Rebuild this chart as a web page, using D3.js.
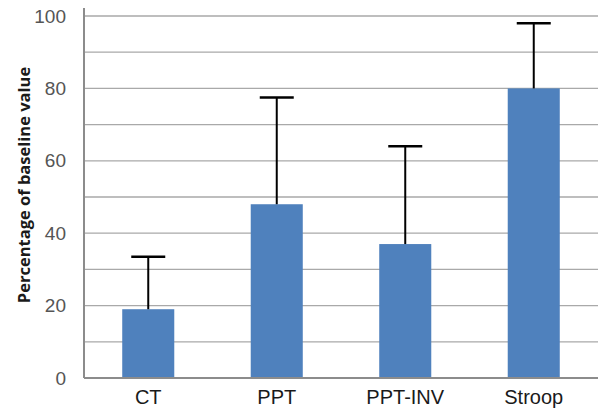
<!DOCTYPE html>
<html>
<head>
<meta charset="utf-8">
<script src="https://cdn.jsdelivr.net/npm/d3@7"></script>
<style>
  body { margin: 0; background: #fff; }
</style>
</head>
<body>
<script>
var categories = ["CT", "PPT", "PPT-INV", "Stroop"];
var means = [19, 48, 37, 80];
var errorTops = [33.5, 77.5, 64, 98];
var yTicks = [0, 20, 40, 60, 80, 100];
var gridTicks = [10, 20, 30, 40, 50, 60, 70, 80, 90, 100];

var width = 605,
    height = 411;

var margin = { top: 16, right: 7, bottom: 33, left: 84 };

var svg = d3.select("body")
    .append("svg")
    .attr("width", width)
    .attr("height", height);

var x = d3.scaleBand()
    .domain(categories)
    .range([margin.left, width - margin.right])
    .paddingInner(0.595)
    .paddingOuter(0.2975);

var y = d3.scaleLinear()
    .domain([0, 100])
    .range([height - margin.bottom, margin.top]);

// gridlines
svg.selectAll("line.grid")
    .data(gridTicks)
    .enter()
    .append("line")
    .attr("class", "grid")
    .attr("x1", margin.left)
    .attr("x2", width - margin.right)
    .attr("y1", function (d) { return y(d); })
    .attr("y2", function (d) { return y(d); })
    .style("stroke", "#a9a9a9")
    .style("stroke-width", 1.3);

// bars
svg.selectAll("rect.bar")
    .data(categories)
    .enter()
    .append("rect")
    .attr("class", "bar")
    .attr("x", function (d) { return x(d); })
    .attr("width", x.bandwidth())
    .attr("y", function (d, i) { return y(means[i]); })
    .attr("height", function (d, i) { return y(0) - y(means[i]); })
    .style("fill", "#4f81bd");

// error bars (upper only)
var capHalf = 17;
var err = svg.selectAll("g.err")
    .data(categories)
    .enter()
    .append("g")
    .attr("class", "err");

err.append("line")
    .attr("x1", function (d) { return x(d) + x.bandwidth() / 2; })
    .attr("x2", function (d) { return x(d) + x.bandwidth() / 2; })
    .attr("y1", function (d, i) { return y(means[i]); })
    .attr("y2", function (d, i) { return y(errorTops[i]); })
    .style("stroke", "#000")
    .style("stroke-width", 2);

err.append("line")
    .attr("x1", function (d) { return x(d) + x.bandwidth() / 2 - capHalf; })
    .attr("x2", function (d) { return x(d) + x.bandwidth() / 2 + capHalf; })
    .attr("y1", function (d, i) { return y(errorTops[i]); })
    .attr("y2", function (d, i) { return y(errorTops[i]); })
    .style("stroke", "#000")
    .style("stroke-width", 2.5);

// y axis
var yAxis = svg.append("g")
    .attr("transform", "translate(" + margin.left + ",0)")
    .call(d3.axisLeft(y).tickValues(yTicks).tickSize(0).tickPadding(18));

yAxis.select(".domain")
    .attr("d", "M0," + (margin.top - 8) + "V" + y(0))
    .style("stroke", "#8c8c8c")
    .style("stroke-width", 2);

yAxis.selectAll("text")
    .style("font-family", "Liberation Sans, Arial, sans-serif")
    .style("font-size", "19px")
    .style("fill", "#555");

// x axis
var xAxis = svg.append("g")
    .attr("transform", "translate(0," + y(0) + ")")
    .call(d3.axisBottom(x).tickSize(0).tickPadding(12));

xAxis.select(".domain")
    .attr("d", "M" + margin.left + ",0H" + (width - margin.right))
    .style("stroke", "#8c8c8c")
    .style("stroke-width", 2);

xAxis.selectAll("text")
    .style("font-family", "Liberation Sans, Arial, sans-serif")
    .style("font-size", "20px")
    .style("fill", "#1a1a1a");

// y axis title
svg.append("text")
    .attr("transform", "translate(30," + 185 + ") rotate(-90)")
    .attr("text-anchor", "middle")
    .style("font-family", "Open Sans, sans-serif")
    .style("font-weight", "bold")
    .style("font-size", "16.5px")
    .style("fill", "#1a1a1a")
    .text("Percentage of baseline value");
</script>
</body>
</html>
